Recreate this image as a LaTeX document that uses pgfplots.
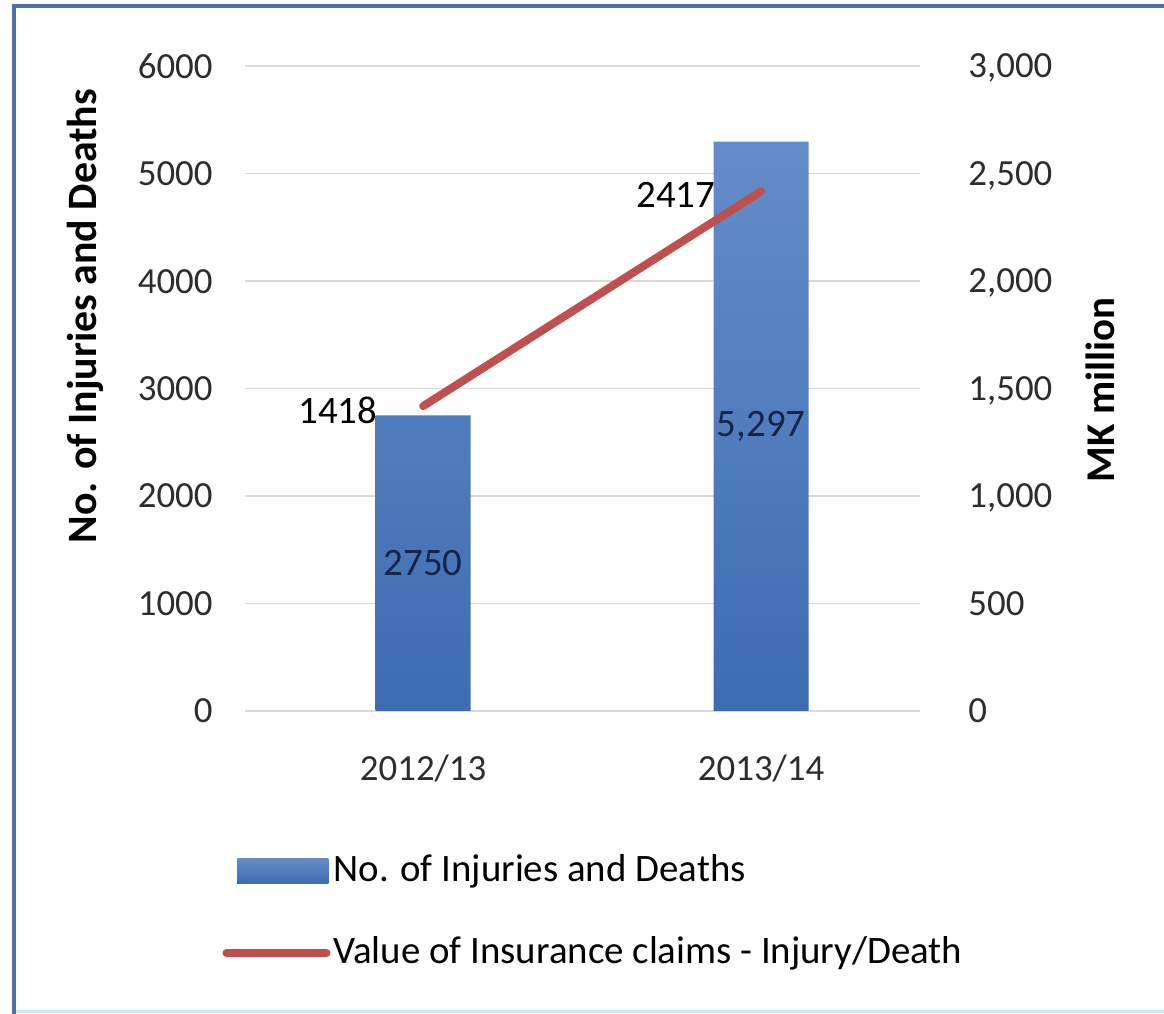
\documentclass[border=0pt]{standalone}
\usepackage{fontspec}
\setmainfont{Carlito}
\usepackage{pgfplots}
\pgfplotsset{compat=1.18}
\definecolor{bartop}{RGB}{100,140,200}
\definecolor{barbot}{RGB}{62,108,178}
\definecolor{linered}{RGB}{192,80,77}
\definecolor{gridgray}{RGB}{217,217,217}
\definecolor{frameblue}{RGB}{80,112,168}
\definecolor{framecyan}{RGB}{200,235,245}
\definecolor{labnavy}{RGB}{22,36,70}
\definecolor{ticktext}{RGB}{45,45,45}

\begin{document}
\begin{tikzpicture}
\useasboundingbox (0,0) rectangle (582bp,507bp);
\fill[white] (0,0) rectangle (582bp,507bp);
\draw[framecyan, line width=1.5bp] (7bp,1.5bp) -- (582bp,1.5bp);
\draw[frameblue, line width=2.2bp] (7bp,0) -- (7bp,504bp) -- (582bp,504bp);

\begin{axis}[
  at={(122.5bp,151.5bp)}, anchor=south west,
  scale only axis, width=337.5bp, height=322.5bp,
  xmin=-0.527, xmax=1.47, ymin=0, ymax=6000,
  xtick={0,1}, xticklabels={2012/13,2013/14},
  ytick={0,1000,...,6000},
  axis line style={draw=none},
  major tick length=0pt,
  ymajorgrids, grid style={gridgray, line width=0.7bp},
  tick label style={font=\fontsize{18.5}{20}\selectfont, text=ticktext},
  /pgf/number format/assume math mode=true,
  /pgf/number format/1000 sep={},
  yticklabel style={anchor=base east, inner sep=0pt, xshift=-16bp, yshift=-6bp},
  xticklabel style={anchor=base, inner sep=0pt, yshift=-35bp},
  ylabel={No. of Injuries and Deaths},
  ylabel style={at={(rel axis cs:-0.237,0.612)}, anchor=center, font=\fontsize{21}{22}\selectfont\bfseries},
  legend style={at={(rel axis cs:-0.034,-0.218)}, anchor=north west, draw=none, fill=none, inner sep=0pt,
    font=\fontsize{19.5}{20}\selectfont, row sep=22bp,
    nodes={inner sep=0pt, text height=14.5bp, text depth=4.5bp},
    /tikz/every odd column/.style={column sep=1.5bp}},
  legend cell align=left,
]
\addplot[ybar, bar width=0.281, draw=none, top color=bartop, bottom color=barbot,
  legend image code/.code={\fill[top color=bartop,bottom color=barbot] (7.5bp,-6.25bp) rectangle (53bp,6.25bp);}]
  coordinates {(0,2750) (1,5297)};
\addlegendentry{No. of Injuries and Deaths}
\addlegendimage{legend image code/.code={\draw[linered, line width=4bp, line cap=round] (2bp,0bp) -- (52bp,0bp);}}
\addlegendentry{Value of Insurance claims - Injury/Death}
\addplot[draw=none, mark=none, forget plot, nodes near coords, point meta=explicit symbolic,
  nodes near coords style={anchor=center, inner sep=0pt, font=\fontsize{19.5}{20}\selectfont, text=labnavy}]
  coordinates {(0,1375)[2750] (1,2648.5)[5,297]};
\end{axis}

\begin{axis}[
  at={(122.5bp,151.5bp)}, anchor=south west,
  scale only axis, width=337.5bp, height=322.5bp,
  xmin=-0.527, xmax=1.47, ymin=0, ymax=3000,
  axis y line*=right, hide x axis,
  ytick={0,500,...,3000},
  axis line style={draw=none},
  major tick length=0pt,
  tick label style={font=\fontsize{18.5}{20}\selectfont, text=ticktext},
  /pgf/number format/assume math mode=true,
  /pgf/number format/1000 sep={,},
  yticklabel style={anchor=base west, inner sep=0pt, xshift=24bp, yshift=-6bp},
  ylabel={MK million},
  ylabel style={at={(rel axis cs:1.267,0.498)}, anchor=center, font=\fontsize{20.5}{22}\selectfont\bfseries},
]
\addplot[linered, line width=4bp, line cap=round, mark=none,
  nodes near coords, point meta=explicit symbolic,
  nodes near coords style={anchor=east, inner sep=0pt, xshift=-21bp, yshift=-2bp, font=\fontsize{19.5}{20}\selectfont, text=black}]
  coordinates {(0,1418)[1418] (1,2417)[2417]};
\end{axis}
\end{tikzpicture}
\end{document}
